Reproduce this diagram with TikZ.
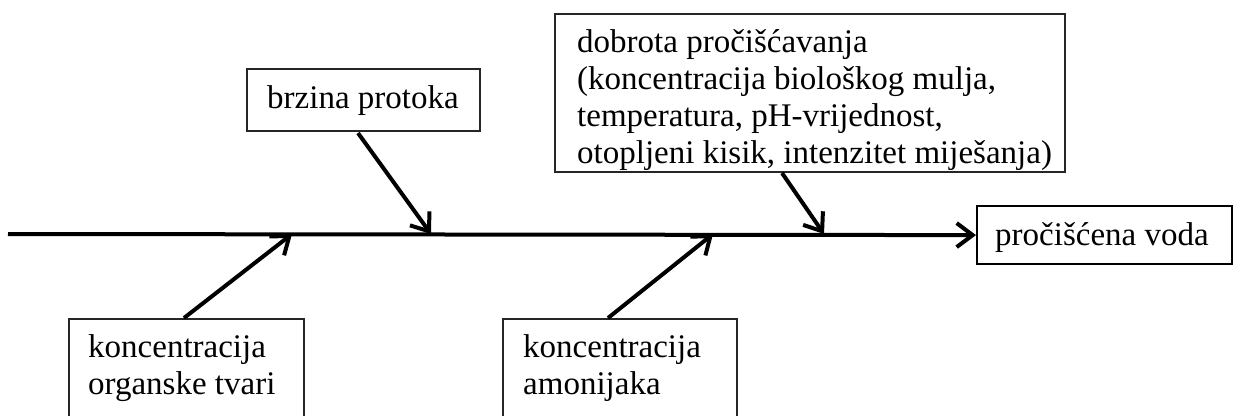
\documentclass[tikz,border=0pt]{standalone}
\usepackage{fontspec}
\setmainfont{Liberation Serif}
\usetikzlibrary{arrows.meta}
\tikzset{
  box/.style={draw=black!85, line width=1.5pt, anchor=north west, inner sep=0pt},
  outbox/.style={draw=black, line width=2.2pt, anchor=north west, inner sep=0pt},
  lbl/.style={anchor=base west, inner sep=0pt, align=left,
    font=\fontsize{33}{36.8}\selectfont},
  bone/.style={line width=4pt, -{Straight Barb[length=16pt,width=24pt,line width=4pt]}},
}
\begin{document}
\begin{tikzpicture}[x=1pt,y=-1pt]
\useasboundingbox (0,0) rectangle (1233,415);
% boxes
\node[box, minimum width=233pt, minimum height=62pt] (brz) at (246,68) {};
\node[box, minimum width=510pt, minimum height=158pt] (dob) at (554,13) {};
\node[box, minimum width=235pt, minimum height=120pt] (org) at (68,318) {};
\node[box, minimum width=234pt, minimum height=120pt] (amo) at (502,318) {};
\node[outbox, minimum width=255pt, minimum height=58pt] (out) at (976,205) {};
% texts
\node[lbl] (brzt) at (267,108) {brzina protoka};
\begin{scope}
\clip (dob.north west) rectangle (dob.south east);
\node[lbl] (dobt1) at (577,52) {dobrota pročišćavanja};
\node[lbl] (dobt2) at (577,89) {(koncentracija biološkog mulja,};
\node[lbl] (dobt3) at (577,126) {temperatura, pH-vrijednost,};
\node[lbl] (dobt4) at (577,163) {otopljeni kisik, intenzitet miješanja)};
\end{scope}
\node[lbl] (orgt1) at (88,357) {koncentracija};
\node[lbl] (orgt2) at (88,394) {organske tvari};
\node[lbl] (amot1) at (523,357) {koncentracija};
\node[lbl] (amot2) at (523,394) {amonijaka};
\node[lbl] (outt) at (995,245) {pročišćena voda};
% spine
\coordinate (start) at (8,234);
\coordinate (s1) at (292,234);
\coordinate (s2) at (431,234);
\coordinate (s3) at (713,234);
\coordinate (s4) at (824,234);
\draw[bone] (start) -- (out.west);
% branches
\coordinate (b1) at (184,318);
\coordinate (b2) at (358,133);
\coordinate (b3) at (608,318);
\coordinate (b4) at (782,173);
\draw[bone] (b1) -- (s1);
\draw[bone] (b2) -- (s2);
\draw[bone] (b3) -- (s3);
\draw[bone] (b4) -- (s4);
\end{tikzpicture}
\end{document}
